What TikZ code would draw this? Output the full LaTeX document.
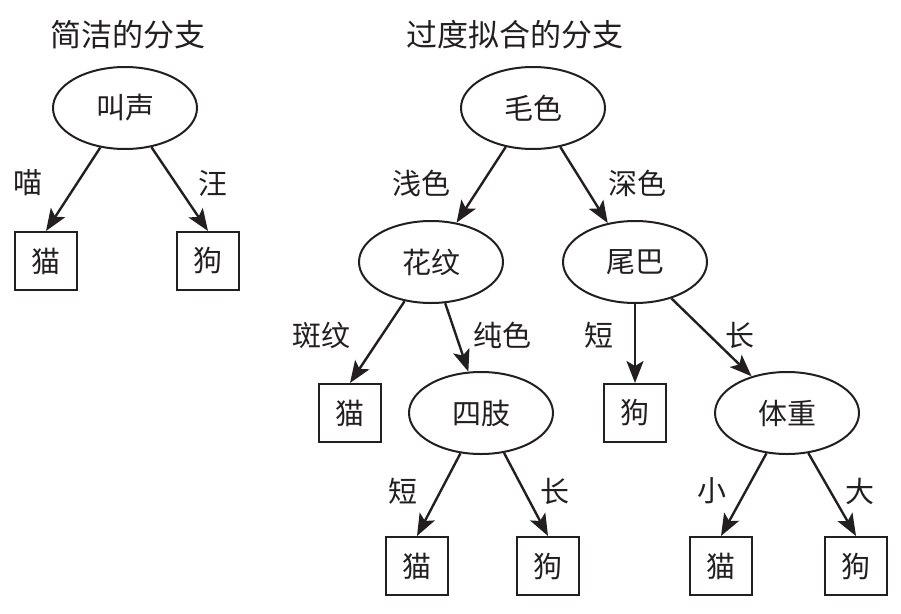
\documentclass[tikz,border=0pt]{standalone}
\usepackage{fontspec}
\newfontfamily\cjk{Noto Sans CJK SC}
\usetikzlibrary{arrows.meta,shapes.geometric}
\definecolor{ink}{HTML}{231F20}
\tikzset{
  every picture/.style={line width=2pt, draw=ink, text=ink, font=\cjk\fontsize{29}{34}\selectfont},
  attr/.style={ellipse, draw=ink, line width=2pt, minimum width=144, minimum height=82, inner sep=0pt},
  leaf/.style={rectangle, draw=ink, line width=2pt, minimum width=62, minimum height=58, inner sep=0pt},
  title/.style={font=\cjk\fontsize{31}{36}\selectfont},
  edge/.style={inner sep=0pt},
  flow/.style={-{Stealth[length=22pt, width=17pt, inset=5pt]}, line width=2.4pt, draw=ink},
}
\begin{document}
\begin{tikzpicture}[x=1pt, y=-1pt]
\useasboundingbox (0,0) rectangle (901,613);
% titles
\node[title] (tsimple) at (128,35) {简洁的分支};
\node[title] (tover) at (515,35) {过度拟合的分支};
% simple tree
\node[attr] (sound) at (125,108) {叫声};
\node[leaf] (cat0) at (46,261) {猫};
\node[leaf] (dog0) at (208,261) {狗};
\draw[flow] (sound.238) -- (cat0.north);
\draw[flow] (sound.304) -- (dog0.north);
\node[edge] (meow) at (28,183) {喵};
\node[edge] (woof) at (213,183) {汪};
% overfit tree
\node[attr] (fur) at (533,108) {毛色};
\node[attr] (pattern) at (431,262) {花纹};
\node[attr] (tail) at (635,262) {尾巴};
\node[leaf] (cat1) at (350,413) {猫};
\node[attr] (limbs) at (481,413) {四肢};
\node[leaf] (dog1) at (635,413) {狗};
\node[attr] (weight) at (787,413) {体重};
\node[leaf] (cat2) at (417,566) {猫};
\node[leaf] (dog2) at (548,566) {狗};
\node[leaf] (cat3) at (721,566) {猫};
\node[leaf] (dog3) at (856,566) {狗};
\draw[flow] (fur.235) -- (pattern.57);
\draw[flow] (fur.305) -- (tail.125);
\draw[flow] (pattern.236) -- (cat1.north);
\draw[flow] (pattern.289) -- (limbs.107);
\draw[flow] (tail.south) -- (dog1.north);
\draw[flow] (tail.315) -- (weight.134);
\draw[flow] (limbs.243) -- (cat2.north);
\draw[flow] (limbs.300) -- (dog2.north);
\draw[flow] (weight.243) -- (cat3.north);
\draw[flow] (weight.298) -- (dog3.north);
% branch labels
\node[edge] (light) at (421,183) {浅色};
\node[edge] (dark) at (637,183) {深色};
\node[edge] (spots) at (321,335) {斑纹};
\node[edge] (solid) at (502,335) {纯色};
\node[edge] (tshort) at (599,335) {短};
\node[edge] (tlong) at (740,335) {长};
\node[edge] (lshort) at (403,491) {短};
\node[edge] (llong) at (555,491) {长};
\node[edge] (small) at (712,491) {小};
\node[edge] (big) at (860,491) {大};
\end{tikzpicture}
\end{document}
